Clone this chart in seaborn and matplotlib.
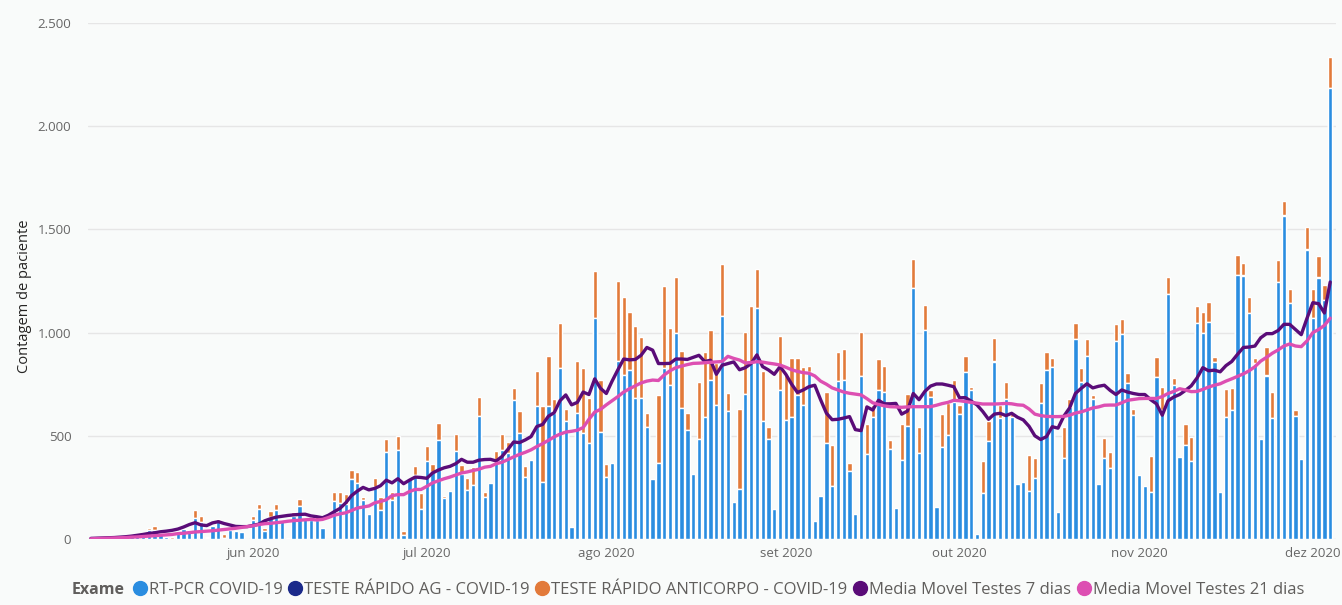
import pandas as pd
import matplotlib
matplotlib.use("Agg")
import matplotlib.pyplot as plt
from matplotlib.lines import Line2D
from matplotlib.ticker import FuncFormatter
import seaborn as sns

# Daily test counts, 2020-05-04 .. 2020-12-04
start_date = "2020-05-04"

rt_pcr = [
    3, 5, 8, 4, 10, 12, 15, 18,
    18, 22, 44, 44, 27, 10, 2, 40,
    48, 44, 100, 84, 3, 63, 88, 5,
    44, 39, 32, 0, 92, 144, 40, 108,
    140, 92, 5, 113, 160, 100, 92, 92,
    52, 0, 184, 176, 170, 291, 273, 190,
    120, 254, 140, 423, 189, 431, 19, 290,
    310, 144, 378, 326, 480, 197, 234, 426,
    315, 237, 262, 596, 205, 270, 383, 431,
    415, 673, 512, 302, 383, 646, 275, 644,
    609, 827, 573, 57, 612, 512, 467, 1069,
    520, 302, 367, 862, 795, 819, 682, 682,
    544, 289, 368, 827, 746, 996, 633, 528,
    315, 483, 593, 770, 649, 1082, 620, 178,
    241, 702, 851, 1118, 572, 484, 145, 722,
    577, 593, 698, 649, 810, 89, 210, 463,
    257, 767, 770, 331, 120, 791, 412, 593,
    722, 714, 434, 152, 383, 547, 1214, 415,
    1013, 690, 157, 444, 504, 665, 606, 807,
    722, 23, 224, 475, 859, 585, 677, 593,
    266, 275, 233, 296, 657, 819, 835, 129,
    391, 641, 967, 762, 887, 677, 265, 391,
    345, 961, 993, 754, 601, 310, 258, 229,
    783, 625, 1187, 746, 396, 455, 380, 1048,
    996, 1053, 859, 229, 593, 625, 1279, 1272,
    1093, 850, 485, 790, 585, 1247, 1565, 1142,
    596, 388, 1398, 1069, 1265, 1158, 2183,
]

teste_ag = [
    0, 0, 0, 0, 0, 0, 0, 0,
    0, 0, 0, 0, 0, 0, 0, 0,
    0, 0, 0, 0, 0, 0, 0, 0,
    0, 0, 0, 0, 0, 0, 0, 0,
    0, 0, 0, 0, 0, 0, 0, 0,
    0, 0, 0, 0, 0, 0, 0, 0,
    0, 0, 0, 0, 0, 0, 0, 0,
    0, 0, 0, 0, 0, 0, 0, 0,
    0, 0, 0, 0, 0, 0, 0, 0,
    0, 0, 0, 0, 0, 0, 0, 0,
    0, 0, 0, 0, 0, 0, 0, 0,
    0, 0, 0, 0, 0, 0, 0, 0,
    0, 0, 0, 0, 0, 0, 0, 0,
    0, 0, 0, 0, 0, 0, 0, 0,
    0, 0, 0, 0, 0, 0, 0, 0,
    0, 0, 0, 0, 0, 0, 0, 0,
    0, 0, 0, 0, 0, 0, 0, 0,
    0, 0, 0, 0, 0, 0, 0, 0,
    0, 0, 0, 0, 0, 0, 0, 0,
    0, 0, 0, 0, 5, 0, 0, 0,
    0, 0, 0, 0, 0, 0, 0, 0,
    0, 0, 0, 0, 0, 0, 0, 0,
    0, 0, 0, 0, 0, 0, 0, 0,
    0, 0, 0, 0, 0, 0, 0, 0,
    0, 0, 0, 0, 0, 0, 0, 7,
    0, 4, 0, 5, 0, 0, 5, 0,
    0, 0, 6, 0, 6, 0, 0,
]

anticorpo = [
    0, 0, 2, 0, 3, 2, 5, 4,
    12, 3, 8, 19, 3, 2, 6, 4,
    0, 0, 40, 29, 8, 0, 7, 19,
    0, 0, 0, 0, 21, 26, 15, 28,
    30, 0, 0, 19, 32, 0, 0, 24,
    0, 0, 42, 50, 48, 43, 50, 15,
    0, 43, 65, 62, 40, 68, 21, 0,
    45, 77, 73, 37, 84, 13, 0, 83,
    43, 60, 88, 94, 24, 0, 45, 78,
    53, 60, 108, 52, 0, 168, 369, 243,
    69, 218, 57, 0, 252, 315, 214, 229,
    250, 60, 0, 390, 379, 282, 350, 295,
    65, 0, 330, 400, 275, 272, 279, 81,
    0, 279, 312, 245, 202, 250, 89, 0,
    389, 303, 278, 190, 242, 57, 0, 262,
    218, 282, 177, 186, 30, 0, 0, 251,
    198, 140, 150, 35, 0, 210, 145, 56,
    148, 124, 46, 0, 173, 155, 141, 129,
    121, 32, 0, 162, 153, 105, 43, 81,
    13, 0, 156, 98, 108, 64, 85, 19,
    0, 0, 174, 95, 100, 88, 40, 0,
    153, 37, 78, 65, 80, 21, 0, 97,
    78, 81, 73, 52, 30, 0, 0, 173,
    97, 113, 81, 32, 0, 102, 113, 83,
    105, 97, 21, 0, 132, 105, 97, 60,
    81, 21, 0, 137, 129, 105, 69, 68,
    29, 0, 110, 141, 102, 73, 151,
]

media_7 = [
    3, 4, 5, 6, 7, 9, 11, 14,
    18, 22, 27, 30, 35, 38, 42, 48,
    58, 70, 79, 68, 65, 78, 84, 75,
    68, 61, 60, 60, 66, 72, 88, 98,
    106, 110, 114, 117, 119, 120, 112, 108,
    103, 115, 132, 148, 175, 210, 232, 250,
    238, 245, 258, 285, 272, 292, 268, 285,
    300, 298, 294, 320, 334, 345, 352, 365,
    386, 372, 372, 382, 385, 386, 378, 400,
    434, 470, 467, 480, 496, 545, 555, 595,
    612, 670, 698, 650, 662, 712, 700, 776,
    730, 705, 765, 820, 872, 868, 870, 890,
    928, 915, 850, 850, 851, 872, 872, 870,
    880, 890, 860, 866, 798, 842, 850, 858,
    820, 830, 850, 892, 835, 819, 798, 835,
    798, 750, 710, 722, 738, 745, 675, 610,
    578, 580, 586, 593, 530, 525, 640, 625,
    672, 655, 655, 657, 605, 620, 705, 675,
    715, 741, 751, 751, 745, 738, 684, 685,
    668, 650, 618, 580, 605, 609, 598, 609,
    590, 577, 546, 500, 482, 496, 544, 537,
    595, 635, 705, 730, 752, 732, 740, 745,
    720, 700, 722, 712, 705, 700, 700, 675,
    655, 600, 670, 688, 700, 720, 742, 780,
    830, 815, 818, 810, 840, 860, 895, 928,
    930, 935, 975, 995, 995, 1010, 1040, 1040,
    1015, 990, 1070, 1145, 1140, 1095, 1245,
]

media_21 = [
    1, 2, 3, 4, 5, 6, 7, 9,
    10, 12, 14, 16, 18, 20, 22, 26,
    28, 31, 34, 36, 38, 40, 43, 46,
    49, 52, 56, 60, 64, 70, 74, 76,
    79, 82, 86, 89, 91, 93, 95, 92,
    95, 104, 115, 122, 127, 138, 150, 155,
    160, 175, 182, 190, 210, 215, 215, 230,
    240, 240, 255, 272, 282, 292, 300, 310,
    320, 325, 332, 338, 348, 352, 365, 372,
    385, 398, 410, 420, 432, 448, 462, 478,
    495, 508, 518, 522, 527, 540, 580, 615,
    628, 650, 670, 690, 712, 728, 742, 756,
    765, 770, 768, 795, 815, 830, 838, 845,
    851, 852, 854, 856, 858, 860, 885, 875,
    867, 853, 855, 859, 857, 852, 848, 843,
    832, 820, 812, 806, 803, 790, 765, 750,
    732, 722, 712, 706, 702, 698, 680, 660,
    652, 645, 641, 640, 638, 640, 641, 641,
    641, 641, 648, 656, 662, 672, 670, 666,
    662, 658, 654, 654, 654, 655, 657, 655,
    650, 648, 630, 605, 598, 594, 593, 593,
    594, 600, 610, 616, 625, 635, 640, 648,
    649, 649, 660, 672, 676, 680, 681, 681,
    681, 690, 705, 715, 728, 722, 714, 715,
    725, 736, 745, 752, 765, 776, 788, 800,
    815, 835, 862, 880, 900, 916, 935, 945,
    935, 932, 960, 1000, 1015, 1035, 1070,
]

month_names = ["jan", "fev", "mar", "abr", "mai", "jun",
               "jul", "ago", "set", "out", "nov", "dez"]
y_ticks = [0, 500, 1000, 1500, 2000, 2500]

series_labels = ["RT-PCR COVID-19", "TESTE RÁPIDO AG - COVID-19",
                 "TESTE RÁPIDO ANTICORPO - COVID-19",
                 "Media Movel Testes 7 dias", "Media Movel Testes 21 dias"]
colors = ["#2A8DE0", "#1B2A8A", "#E27A3A", "#5A0C78", "#DD4FB2"]

df = pd.DataFrame({
    "data": pd.date_range(start_date, periods=len(rt_pcr), freq="D"),
    "rt_pcr": rt_pcr,
    "ag": teste_ag,
    "anticorpo": anticorpo,
    "mm7": media_7,
    "mm21": media_21,
})
df["dia"] = range(len(df))
df["pcr_ag"] = df["rt_pcr"] + df["ag"]
df["total"] = df["pcr_ag"] + df["anticorpo"]

sns.set_style("white")
plt.rcParams["font.family"] = ["Open Sans", "DejaVu Sans"]

bg = "#F9FBFA"
fig = plt.figure(figsize=(13.42, 6.05), dpi=100, facecolor=bg)
ax = fig.add_axes([88 / 1342, 1 - 539 / 605, 1248 / 1342, 516 / 605])
ax.set_facecolor(bg)

# stacked bars: draw totals first, then the lower segments on top
for col, c in [("total", colors[2]), ("pcr_ag", colors[1]), ("rt_pcr", colors[0])]:
    sns.barplot(data=df, x="dia", y=col, color=c, width=0.74, saturation=1,
                errorbar=None, ax=ax, zorder=2)

sns.lineplot(data=df, x="dia", y="mm7", color=colors[3], linewidth=2.4,
             ax=ax, zorder=4)
sns.lineplot(data=df, x="dia", y="mm21", color=colors[4], linewidth=2.4,
             ax=ax, zorder=5)

ax.set_xlim(-0.5, 215.0)
ax.set_ylim(0, 2500)

first_days = df[df["data"].dt.day == 1]
ax.set_xticks(first_days["dia"].tolist())
ax.set_xticklabels([f"{month_names[d.month - 1]} {d.year}" for d in first_days["data"]])
ax.set_yticks(y_ticks)
ax.yaxis.set_major_formatter(FuncFormatter(lambda v, p: f"{int(v):,}".replace(",", ".")))
ax.tick_params(axis="both", length=0, labelsize=9.5, labelcolor="#666666")
ax.tick_params(axis="x", pad=6)
ax.tick_params(axis="y", pad=12)

ax.grid(axis="y", color="#E6E6E6", linewidth=1)
ax.set_axisbelow(True)
sns.despine(ax=ax, left=True, bottom=True)

ax.set_xlabel("")
ax.set_ylabel("Contagem de paciente", fontsize=10.5, color="#252423")
ax.yaxis.set_label_coords(-56 / 1248, 0.47)

# legend along the bottom
fig.text(72 / 1342, 1 - 590 / 605, "Exame", fontsize=11.5, fontweight="bold",
         color="#605E5C", va="center", ha="left")
handles = [Line2D([0], [0], marker="o", linestyle="", markersize=10,
                  markerfacecolor=c, markeredgecolor=c) for c in colors]
fig.legend(handles, series_labels, loc="center left",
           bbox_to_anchor=(132 / 1342, 1 - 590 / 605), ncol=5, frameon=False,
           fontsize=12.0, labelcolor="#605E5C", handletextpad=0.1,
           columnspacing=0.3, handlelength=0.9, borderaxespad=0, borderpad=0)

fig.savefig("out.png", dpi=100, facecolor=bg)
